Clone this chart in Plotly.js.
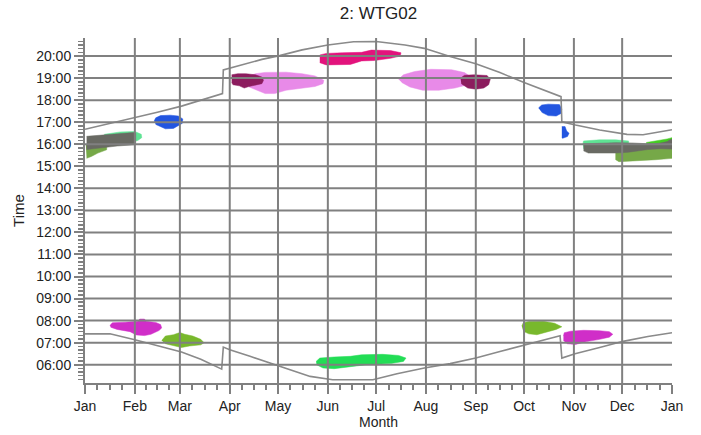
<!DOCTYPE html>
<html>
<head>
<meta charset="utf-8">
<script src="https://cdn.plot.ly/plotly-3.0.1.min.js"></script>
<style>html,body{margin:0;padding:0;background:#fff;}#chart{width:701px;height:435px;}</style>
</head>
<body>
<div id="chart"></div>
<script>
// ---- axis categories / ticks ----
const monthNames = ['Jan','Feb','Mar','Apr','May','Jun','Jul','Aug','Sep','Oct','Nov','Dec','Jan'];
const monthStart = [0,31,59,90,120,151,181,212,243,273,304,334,365];
const hourTicks = [6,7,8,9,10,11,12,13,14,15,16,17,18,19,20];
const hourLabels = ['06:00','07:00','08:00','09:00','10:00','11:00','12:00','13:00','14:00','15:00','16:00','17:00','18:00','19:00','20:00'];

// ---- sunset / sunrise lines (day of year, hour) ----
const sunsetDay  = [0,15,31,45,60,75,85.5,86,96,110,121,135,151,167,181,199,211,227,243,258,273,285,296,296.5,305,320,337,347,355,365];
const sunsetHour = [16.68,16.93,17.20,17.45,17.73,18.05,18.30,19.37,19.58,19.85,20.02,20.28,20.50,20.65,20.66,20.50,20.35,19.98,19.65,19.25,18.80,18.45,18.16,17.02,16.87,16.65,16.45,16.43,16.52,16.66];
const sunriseDay  = [0,15.5,31,45,60,72,85,86,90,102.6,121,140,154,179,194,211,227,243,258,273.6,295.4,296.5,304.7,320,334.6,350,365];
const sunriseHour = [7.40,7.40,7.13,6.85,6.58,6.25,5.80,6.80,6.68,6.38,5.92,5.47,5.32,5.32,5.59,5.85,6.05,6.30,6.60,6.91,7.31,6.30,6.50,6.78,7.06,7.28,7.45];

// ---- shadow flicker areas (day of year, hour) ----
const janMintDay  = [12,22,31,35,35.3,33,28,12];
const janMintHour = [16.45,16.56,16.58,16.45,16.30,16.18,16.05,16.0];
const janOliveDay  = [0.5,13.5,13.5,8,4,1];
const janOliveHour = [16.0,15.95,15.75,15.6,15.45,15.36];
const janGrayDay  = [1,10,20,30,31.5,31.5,20,10,1];
const janGrayHour = [16.36,16.42,16.48,16.53,16.50,15.98,15.92,15.84,15.76];
const febBlueDay  = [43,44,47,53,58,60.8,60.5,58,55,50,47,44];
const febBlueHour = [17.05,17.2,17.3,17.32,17.28,17.15,16.95,16.85,16.72,16.70,16.80,16.90];
const aprVioletDay  = [100,106,112,125,135,143,148.5,148,143,135,125,118,112,107,102];
const aprVioletHour = [19.05,19.2,19.26,19.27,19.2,19.1,18.9,18.75,18.62,18.55,18.45,18.3,18.3,18.45,18.6];
const aprMaroonDay  = [91.2,95,100,106,110,111,110,106,102,99,96,92,91.2];
const aprMaroonHour = [19.15,19.2,19.2,19.15,19.05,18.9,18.75,18.7,18.62,18.55,18.65,18.7,18.8];
const junCrimsonDay  = [146,150,160,172,178,190,196.5,196,190,180,172,165,150,146];
const junCrimsonHour = [20.05,20.12,20.15,20.17,20.27,20.25,20.15,20.0,19.9,19.8,19.78,19.62,19.6,19.7];
const augVioletDay  = [195,198,205,215,228,236,240,238,230,220,210,202,197];
const augVioletHour = [18.95,19.15,19.3,19.4,19.38,19.25,19.05,18.7,18.55,18.45,18.45,18.6,18.8];
const sepMaroonDay  = [233.5,236,242,250,252,251,248,243,238,234];
const sepMaroonHour = [19.0,19.13,19.15,19.12,18.95,18.7,18.55,18.5,18.55,18.75];
const octBlueDay  = [282,284,288,295,296.5,296,293,288,284];
const octBlueHour = [17.65,17.78,17.82,17.8,17.6,17.4,17.28,17.3,17.45];
const novBlueDay  = [296.5,298.5,299.5,301,300,297,296.5];
const novBlueHour = [16.8,16.8,16.6,16.5,16.35,16.27,16.3];
const novOliveDay  = [330,330,332,345,355,365,365,350];
const novOliveHour = [15.7,15.3,15.21,15.25,15.3,15.36,15.9,15.85];
const decGreenDay  = [349,355,362,365,365,355,349];
const decGreenHour = [16.08,16.14,16.24,16.3,16.1,16.0,16.0];
const novMintDay  = [309.5,310,320,330,338,338,310];
const novMintHour = [16.0,16.15,16.2,16.2,16.15,15.9,15.8];
const novGrayDay  = [310,320,330,340,350,357,362,364,365,365,358,350,345,338,330,313,310];
const novGrayHour = [16.02,16.06,16.07,16.06,16.02,16.04,16.12,16.22,16.22,15.78,15.8,15.76,15.7,15.64,15.6,15.6,15.7];
const febMagentaDay  = [15.5,17,25,33,34,37,38,44,47,47.7,46,41,37,32,28,20,16];
const febMagentaHour = [7.78,7.9,7.93,7.97,8.07,8.07,7.97,7.92,7.82,7.67,7.55,7.38,7.32,7.35,7.5,7.6,7.7];
const marOliveDay  = [47.7,50,55,59,62,67,72,74,72,65,60,55,50];
const marOliveHour = [7.1,7.3,7.36,7.46,7.38,7.3,7.15,7.0,6.9,6.85,6.78,6.85,6.95];
const junGreenDay  = [143.7,146,155,165,172,185,195,199.6,198,190,175,165,155,148,144];
const junGreenHour = [6.15,6.3,6.35,6.38,6.45,6.47,6.42,6.3,6.15,6.05,6.0,5.9,5.82,5.85,6.0];
const octOliveDay  = [271.6,272.5,276,285,292,296.5,293,288,281,276,272.5];
const octOliveHour = [7.75,7.9,7.96,7.97,7.88,7.72,7.6,7.5,7.36,7.4,7.52];
const novMagentaDay  = [297.5,298,302,310,320,326,328.2,326,320,312,305,300,297.5];
const novMagentaHour = [7.3,7.45,7.52,7.56,7.54,7.5,7.38,7.25,7.15,7.05,6.92,6.95,7.1];

// ---- build ----
function blob(x, y, color) {
  return {x: x, y: y, type: 'scatter', mode: 'lines', fill: 'toself',
    fillcolor: color, line: {color: color, width: 0.5}, hoverinfo: 'skip', showlegend: false};
}
const GRAY = '#696a63', MINT = '#5fe394', OLIVE = '#76a848', OLIVE2 = '#78b82c',
      BLUE = '#2255e0', MAROON = '#8c1c5e', VIOLET = '#e88ae8', CRIMSON = '#e2137c',
      MAGENTA = '#d02ec8', GREEN = '#22dd55', GREEN2 = '#44cc22';

const traces = [
  blob(janMintDay, janMintHour, MINT),
  blob(janOliveDay, janOliveHour, OLIVE),
  blob(janGrayDay, janGrayHour, GRAY),
  blob(febBlueDay, febBlueHour, BLUE),
  blob(aprVioletDay, aprVioletHour, VIOLET),
  blob(aprMaroonDay, aprMaroonHour, MAROON),
  blob(junCrimsonDay, junCrimsonHour, CRIMSON),
  blob(augVioletDay, augVioletHour, VIOLET),
  blob(sepMaroonDay, sepMaroonHour, MAROON),
  blob(octBlueDay, octBlueHour, BLUE),
  blob(novBlueDay, novBlueHour, BLUE),
  blob(novOliveDay, novOliveHour, OLIVE),
  blob(decGreenDay, decGreenHour, GREEN2),
  blob(novMintDay, novMintHour, MINT),
  blob(novGrayDay, novGrayHour, GRAY),
  blob(febMagentaDay, febMagentaHour, MAGENTA),
  blob(marOliveDay, marOliveHour, OLIVE2),
  blob(junGreenDay, junGreenHour, GREEN),
  blob(octOliveDay, octOliveHour, OLIVE2),
  blob(novMagentaDay, novMagentaHour, MAGENTA),
  {x: sunsetDay, y: sunsetHour, type: 'scatter', mode: 'lines', line: {color: '#8a8a8a', width: 1.6}, hoverinfo: 'skip', showlegend: false},
  {x: sunriseDay, y: sunriseHour, type: 'scatter', mode: 'lines', line: {color: '#8a8a8a', width: 1.6}, hoverinfo: 'skip', showlegend: false}
];

// minor x ticks: quarter-month divisions
const minorX = [];
for (let i = 0; i < monthStart.length - 1; i++) {
  const a = monthStart[i], b = monthStart[i + 1];
  for (let k = 1; k < 4; k++) minorX.push(a + (b - a) * k / 4);
}

// gridlines drawn above the flicker areas
const GRID = '#808080';
const shapes = [];
monthStart.slice(1, -1).forEach(d => shapes.push({type: 'line', xref: 'x', yref: 'paper', x0: d, x1: d, y0: 0, y1: 1, layer: 'above', line: {color: GRID, width: 2}}));
hourTicks.forEach(h => shapes.push({type: 'line', xref: 'paper', yref: 'y', x0: 0, x1: 1, y0: h, y1: h, layer: 'above', line: {color: GRID, width: 2}}));

const FONT = 'Liberation Sans, Arial, sans-serif';
const layout = {
  width: 701, height: 435,
  margin: {l: 85, r: 29, t: 38, b: 52},
  paper_bgcolor: '#fff', plot_bgcolor: '#fff',
  font: {family: FONT, size: 14, color: '#222'},
  title: {text: '2: WTG02', x: 0.5, xref: 'paper', y: 0.984, yref: 'container', yanchor: 'top', font: {family: FONT, size: 17, color: '#222'}},
  xaxis: {
    range: [0, 365], tickmode: 'array', tickvals: monthStart, ticktext: monthNames,
    ticks: 'outside', ticklen: 9, tickwidth: 2, tickcolor: GRID,
    showline: true, linecolor: GRID, linewidth: 2, showgrid: false, zeroline: false,
    minor: {tickmode: 'array', tickvals: minorX, ticks: 'outside', ticklen: 5, tickwidth: 2, tickcolor: GRID, showgrid: false},
    tickfont: {family: FONT, size: 14, color: '#222'},
    title: {text: 'Month', font: {family: FONT, size: 14, color: '#222'}, standoff: 3},
    fixedrange: true
  },
  yaxis: {
    range: [5.17, 20.82], tickmode: 'array', tickvals: hourTicks, ticktext: hourLabels,
    ticks: 'outside', ticklen: 9, tickwidth: 2, tickcolor: GRID,
    showline: true, linecolor: GRID, linewidth: 2, showgrid: false, zeroline: false,
    minor: {tick0: 0, dtick: 1/6, ticks: 'outside', ticklen: 5, tickwidth: 1.5, tickcolor: GRID, showgrid: false},
    tickfont: {family: FONT, size: 14, color: '#222'},
    title: {text: 'Time', font: {family: FONT, size: 15, color: '#222'}, standoff: 8},
    fixedrange: true
  },
  shapes: shapes
};

Plotly.newPlot('chart', traces, layout, {displayModeBar: false, staticPlot: true});
</script>
</body>
</html>
